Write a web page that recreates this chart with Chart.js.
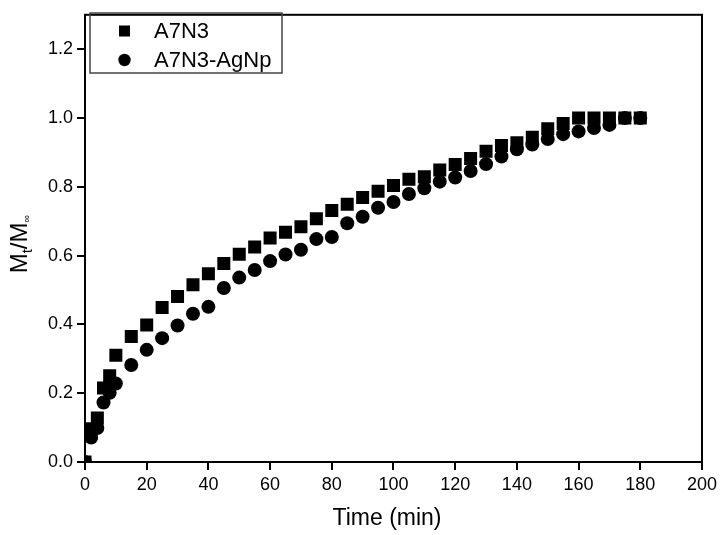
<!DOCTYPE html>
<html><head><meta charset="utf-8">
<script src="https://cdn.jsdelivr.net/npm/chart.js@4/dist/chart.umd.min.js"></script>
<style>html,body{margin:0;padding:0;background:#fff}#wrap{width:721px;height:535px}</style>
</head><body><div id="wrap"><canvas id="c" width="721" height="535"></canvas></div>
<script>
const seriesNames = ['A7N3', 'A7N3-AgNp'];
const timeA7N3 = [0, 1, 4, 6, 8, 10, 15, 20, 25, 30, 35, 40, 45, 50, 55, 60, 65, 70, 75, 80, 85, 90, 95, 100, 105, 110, 115, 120, 125, 130, 135, 140, 145, 150, 155, 160, 165, 170, 175, 180];
const valuesA7N3 = [0, 0.097, 0.128, 0.215, 0.251, 0.310, 0.365, 0.398, 0.449, 0.481, 0.515, 0.547, 0.577, 0.604, 0.625, 0.651, 0.668, 0.684, 0.707, 0.731, 0.749, 0.769, 0.787, 0.804, 0.822, 0.829, 0.849, 0.865, 0.882, 0.903, 0.920, 0.928, 0.944, 0.969, 0.984, 1.0, 1.0, 1.0, 1.0, 1.0];
const timeAgNp = [0, 2, 4, 6, 8, 10, 15, 20, 25, 30, 35, 40, 45, 50, 55, 60, 65, 70, 75, 80, 85, 90, 95, 100, 105, 110, 115, 120, 125, 130, 135, 140, 145, 150, 155, 160, 165, 170, 175, 180];
const valuesAgNp = [0, 0.071, 0.099, 0.173, 0.201, 0.228, 0.282, 0.326, 0.360, 0.397, 0.431, 0.451, 0.506, 0.536, 0.558, 0.584, 0.603, 0.617, 0.648, 0.654, 0.694, 0.713, 0.739, 0.756, 0.779, 0.796, 0.815, 0.827, 0.846, 0.866, 0.888, 0.909, 0.923, 0.939, 0.953, 0.961, 0.971, 0.980, 1.0, 1.0];
const xTicks = [0, 20, 40, 60, 80, 100, 120, 140, 160, 180, 200];
const yTicks = [0, 0.2, 0.4, 0.6, 0.8, 1.0, 1.2];
const xTitle = 'Time (min)';
const FONT = '"Liberation Sans", Arial, sans-serif';

const toPoints = (xs, ys) => xs.map((x, i) => ({x: x, y: ys[i]}));

const framePlugin = {
  id: 'frame',
  afterDraw(chart) {
    const {ctx, chartArea: a} = chart;
    ctx.save();
    ctx.strokeStyle = '#000';
    ctx.lineWidth = 2;
    ctx.strokeRect(a.left, a.top, a.right - a.left, a.bottom - a.top);

    // legend
    ctx.strokeStyle = '#444';
    ctx.lineWidth = 1.5;
    ctx.strokeRect(90, 13, 192, 60);
    const rows = [31, 60];
    chart.data.datasets.forEach((ds, i) => {
      const cy = rows[i];
      ctx.fillStyle = '#000';
      if (ds.pointStyle === 'rect') {
        ctx.fillRect(119, cy - 5.5, 11, 11);
      } else {
        ctx.beginPath();
        ctx.arc(124.5, cy, 6.2, 0, Math.PI * 2);
        ctx.fill();
      }
      ctx.font = '22px ' + FONT;
      ctx.textBaseline = 'middle';
      ctx.textAlign = 'left';
      ctx.fillText(ds.label, 154, cy + 1);
    });

    // x title
    ctx.font = '23px ' + FONT;
    ctx.textAlign = 'center';
    ctx.textBaseline = 'middle';
    ctx.fillText(xTitle, 387, 519);

    // y title M_t/M_inf
    ctx.translate(27, 244);
    ctx.rotate(-Math.PI / 2);
    ctx.textAlign = 'left';
    ctx.textBaseline = 'alphabetic';
    const parts = [
      {t: 'M', f: '24px ' + FONT, dy: 0},
      {t: 't', f: '15px ' + FONT, dy: 5},
      {t: '/M', f: '24px ' + FONT, dy: 0},
      {t: '\u221E', f: '11px ' + FONT, dy: 3}
    ];
    let total = 0;
    parts.forEach(p => { ctx.font = p.f; p.w = ctx.measureText(p.t).width; total += p.w; });
    let x = -total / 2;
    parts.forEach(p => { ctx.font = p.f; ctx.fillText(p.t, x, p.dy); x += p.w; });
    ctx.restore();
  }
};

new Chart(document.getElementById('c'), {
  type: 'scatter',
  data: {
    datasets: [
      {label: seriesNames[0], data: toPoints(timeA7N3, valuesA7N3), pointStyle: 'rect', pointRadius: 9.2, pointHoverRadius: 9.2, backgroundColor: '#000', borderColor: '#000', borderWidth: 0, showLine: false},
      {label: seriesNames[1], data: toPoints(timeAgNp, valuesAgNp), pointStyle: 'circle', pointRadius: 7, pointHoverRadius: 7, backgroundColor: '#000', borderColor: '#000', borderWidth: 0, showLine: false}
    ]
  },
  options: {
    responsive: false,
    animation: false,
    devicePixelRatio: 1,
    layout: {padding: {top: 6, right: 19, left: 0, bottom: 0}},
    plugins: {legend: {display: false}, tooltip: {enabled: false}},
    scales: {
      x: {
        type: 'linear', min: 0, max: 200,
        afterBuildTicks: s => { s.ticks = xTicks.map(v => ({value: v})); },
        afterFit: s => { s.height = 73; },
        ticks: {color: '#000', font: {family: FONT, size: 18}, padding: 4, maxRotation: 0, autoSkip: false, callback: v => String(v)},
        grid: {drawOnChartArea: false, drawTicks: true, tickLength: 8, color: '#000', lineWidth: 2},
        border: {display: true, color: '#000', width: 2}
      },
      y: {
        type: 'linear', min: 0, max: 1.3,
        afterBuildTicks: s => { s.ticks = yTicks.map(v => ({value: v})); },
        afterFit: s => { s.width = 85; },
        ticks: {color: '#000', font: {family: FONT, size: 18}, padding: 4, autoSkip: false, callback: v => Number(v).toFixed(1)},
        grid: {drawOnChartArea: false, drawTicks: true, tickLength: 8, color: '#000', lineWidth: 2},
        border: {display: true, color: '#000', width: 2}
      }
    }
  },
  plugins: [framePlugin]
});
</script></body></html>
